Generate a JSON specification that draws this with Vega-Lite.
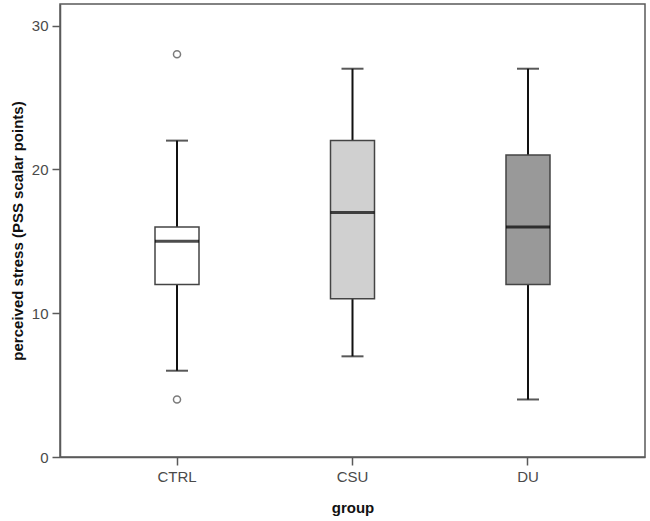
{
  "$schema": "https://vega.github.io/schema/vega-lite/v6.json",
  "width": 585,
  "height": 453,
  "autosize": {"type": "none"},
  "padding": {"left": 60, "top": 4, "right": 5, "bottom": 64},
  "background": "white",
  "config": {
    "font": "Liberation Sans",
    "view": {"stroke": "#5a5a5a", "strokeWidth": 1.5},
    "axis": {
      "grid": false,
      "domainColor": "#5a5a5a",
      "domainWidth": 1.5,
      "tickColor": "#5a5a5a",
      "tickWidth": 1.5,
      "tickSize": 8,
      "labelFont": "Liberation Sans",
      "labelFontSize": 15,
      "labelColor": "#4a4a4a",
      "labelPadding": 4,
      "titleFont": "Liberation Sans",
      "titleFontSize": 15,
      "titleFontWeight": "bold",
      "titleColor": "#111111"
    }
  },
  "datasets": {
    "boxes": [
      {"group": "CTRL", "lo": 6, "q1": 12, "med": 15, "q3": 16, "hi": 22},
      {"group": "CSU", "lo": 7, "q1": 11, "med": 17, "q3": 22, "hi": 27},
      {"group": "DU", "lo": 4, "q1": 12, "med": 16, "q3": 21, "hi": 27}
    ],
    "outliers": [
      {"group": "CTRL", "value": 28},
      {"group": "CTRL", "value": 4}
    ]
  },
  "encoding": {
    "x": {
      "field": "group",
      "type": "nominal",
      "sort": ["CTRL", "CSU", "DU"],
      "scale": {"type": "band", "paddingInner": 0, "paddingOuter": 0.1667},
      "axis": {"title": "group", "labelAngle": 0, "titlePadding": 16}
    }
  },
  "layer": [
    {
      "data": {"name": "boxes"},
      "mark": {"type": "rule", "color": "#111111", "strokeWidth": 2},
      "encoding": {
        "y": {
          "field": "lo",
          "type": "quantitative",
          "scale": {"domain": [0, 31.5], "nice": false, "zero": false},
          "axis": {
            "title": "perceived stress (PSS scalar points)",
            "values": [0, 10, 20, 30],
            "titlePadding": 6
          }
        },
        "y2": {"field": "hi"}
      }
    },
    {
      "data": {"name": "boxes"},
      "mark": {"type": "tick", "color": "#111111", "size": 22, "thickness": 2},
      "encoding": {"y": {"field": "lo", "type": "quantitative"}}
    },
    {
      "data": {"name": "boxes"},
      "mark": {"type": "tick", "color": "#111111", "size": 22, "thickness": 2},
      "encoding": {"y": {"field": "hi", "type": "quantitative"}}
    },
    {
      "data": {"name": "boxes"},
      "mark": {"type": "bar", "size": 44, "stroke": "#444444", "strokeWidth": 1.5, "opacity": 1},
      "encoding": {
        "y": {"field": "q1", "type": "quantitative"},
        "y2": {"field": "q3"},
        "fill": {
          "field": "group",
          "type": "nominal",
          "scale": {"domain": ["CTRL", "CSU", "DU"], "range": ["#ffffff", "#d0d0d0", "#999999"]},
          "legend": null
        }
      }
    },
    {
      "data": {"name": "boxes"},
      "mark": {"type": "tick", "color": "#000000", "size": 44, "thickness": 3},
      "encoding": {"y": {"field": "med", "type": "quantitative"}}
    },
    {
      "data": {"name": "outliers"},
      "mark": {"type": "point", "shape": "circle", "filled": false, "stroke": "#444444", "strokeWidth": 1.5, "size": 50},
      "encoding": {"y": {"field": "value", "type": "quantitative"}}
    }
  ]
}
